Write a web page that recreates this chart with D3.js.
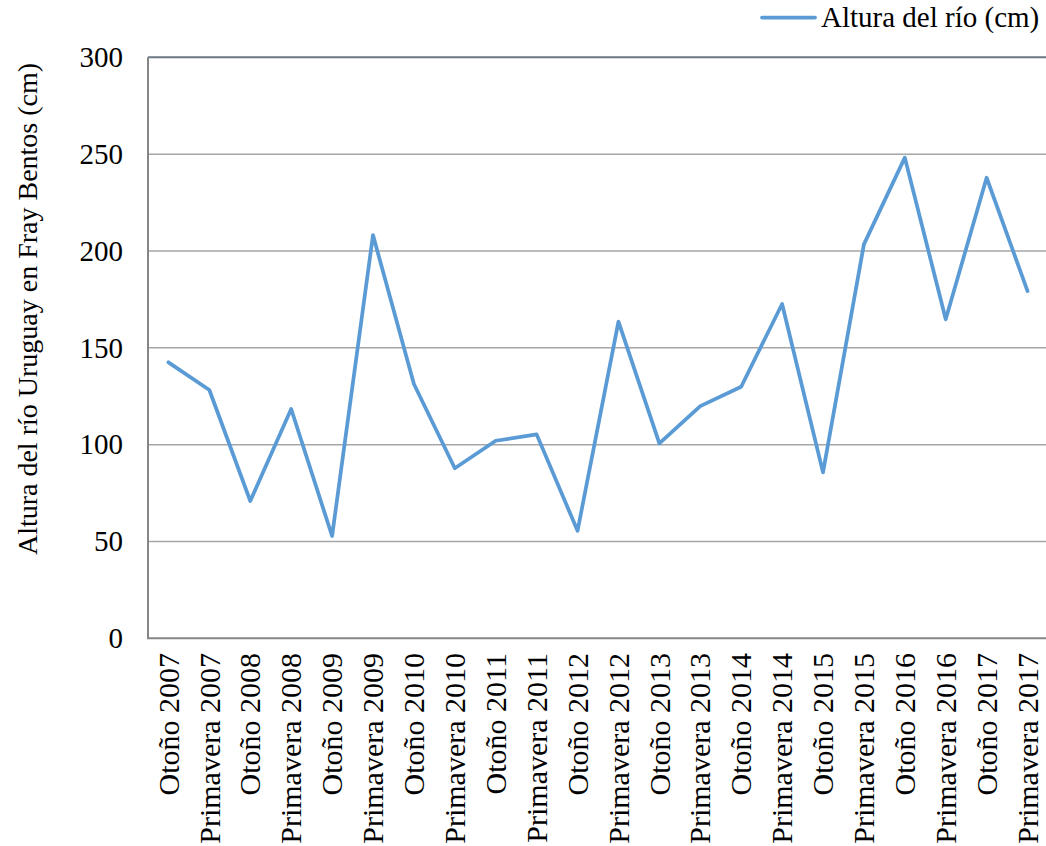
<!DOCTYPE html>
<html>
<head>
<meta charset="utf-8">
<script src="https://cdn.jsdelivr.net/npm/d3@7"></script>
<style>
  html, body { margin: 0; padding: 0; background: #fff; }
  svg { display: block; font-family: "Liberation Serif", "Times New Roman", serif; }
</style>
</head>
<body>
<svg id="chart" width="1046" height="846"></svg>
<script>
// Seasons sampled (autumn / spring, 2007–2017)
const seasons = [
  "Otoño 2007", "Primavera 2007", "Otoño 2008", "Primavera 2008",
  "Otoño 2009", "Primavera 2009", "Otoño 2010", "Primavera 2010",
  "Otoño 2011", "Primavera 2011", "Otoño 2012", "Primavera 2012",
  "Otoño 2013", "Primavera 2013", "Otoño 2014", "Primavera 2014",
  "Otoño 2015", "Primavera 2015", "Otoño 2016", "Primavera 2016",
  "Otoño 2017", "Primavera 2017"
];

// River height at Fray Bentos (cm)
const riverHeight = [
  142.5, 128.2, 70.9, 118.4,
  52.8, 208.2, 131.3, 87.8,
  102.0, 105.3, 55.5, 163.5,
  100.7, 119.9, 129.9, 172.6,
  85.7, 203.4, 248.2, 164.7,
  237.8, 179.3
];

const yTicks = [0, 50, 100, 150, 200, 250, 300];

const seriesName = "Altura del río (cm)";
const yTitle = "Altura del río Uruguay en Fray Bentos (cm)";

const svg = d3.select("#chart");
const plot = { left: 148, right: 1048, top: 57.3, bottom: 638.3 };

const x = d3.scaleBand()
  .domain(seasons)
  .range([plot.left, plot.right]);

const y = d3.scaleLinear()
  .domain([0, 300])
  .range([plot.bottom, plot.top]);

// Horizontal gridlines
svg.append("g")
  .selectAll("line")
  .data(yTicks.filter(d => d > 0))
  .join("line")
  .attr("x1", plot.left)
  .attr("x2", plot.right)
  .attr("y1", d => y(d))
  .attr("y2", d => y(d))
  .attr("stroke", d => d === 300 ? "#6b7685" : "#a6a6a6")
  .attr("stroke-width", d => d === 300 ? 2 : 1.5);

// Axis lines
svg.append("line")
  .attr("x1", plot.left).attr("x2", plot.left)
  .attr("y1", y(300)).attr("y2", y(0))
  .attr("stroke", "#868686").attr("stroke-width", 2);
svg.append("line")
  .attr("x1", plot.left - 1).attr("x2", plot.right)
  .attr("y1", y(0)).attr("y2", y(0))
  .attr("stroke", "#868686").attr("stroke-width", 2);

// Y tick labels
svg.append("g")
  .selectAll("text")
  .data(yTicks)
  .join("text")
  .attr("x", 123)
  .attr("y", d => y(d))
  .attr("dy", "0.34em")
  .attr("text-anchor", "end")
  .attr("font-size", 29)
  .attr("fill", "#000")
  .text(d => d);

// X tick labels (rotated)
svg.append("g")
  .selectAll("text")
  .data(seasons)
  .join("text")
  .attr("transform", d => `translate(${x(d) + x.bandwidth() / 2},653) rotate(-90)`)
  .attr("dy", "0.34em")
  .attr("text-anchor", "end")
  .attr("font-size", 30)
  .attr("fill", "#000")
  .text(d => d);

// Y axis title
svg.append("text")
  .attr("transform", "translate(37,309) rotate(-90)")
  .attr("text-anchor", "middle")
  .attr("font-size", 28)
  .attr("fill", "#000")
  .text(yTitle);

// Data line
const line = d3.line()
  .x((d, i) => x(seasons[i]) + x.bandwidth() / 2)
  .y(d => y(d));

svg.append("path")
  .datum(riverHeight)
  .attr("d", line)
  .attr("fill", "none")
  .attr("stroke", "#5b9bd5")
  .attr("stroke-width", 3.75)
  .attr("stroke-linejoin", "round")
  .attr("stroke-linecap", "round");

// Legend
const legend = svg.append("g");
legend.append("line")
  .attr("x1", 762).attr("x2", 815)
  .attr("y1", 17.5).attr("y2", 17.5)
  .attr("stroke", "#5b9bd5")
  .attr("stroke-width", 3.75)
  .attr("stroke-linecap", "round");
legend.append("text")
  .attr("x", 821)
  .attr("y", 27)
  .attr("font-size", 29)
  .attr("fill", "#000")
  .text(seriesName);
</script>
</body>
</html>
